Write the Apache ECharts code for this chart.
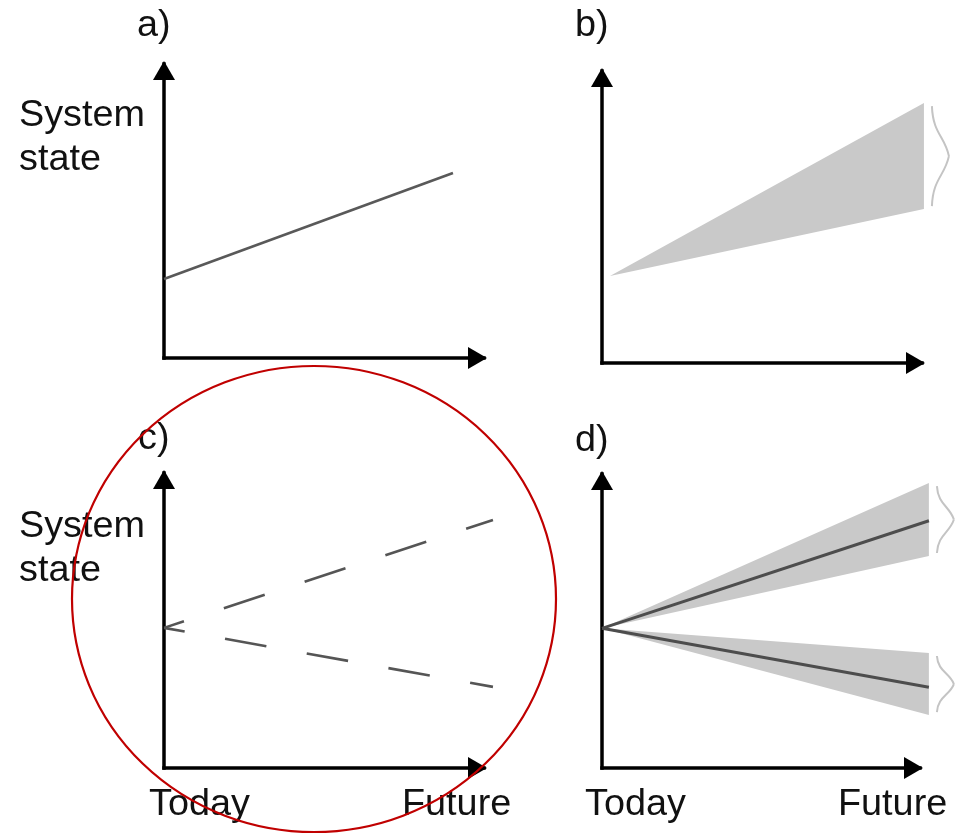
<!DOCTYPE html>
<html>
<head>
<meta charset="utf-8">
<script src="https://cdn.jsdelivr.net/npm/echarts@6/dist/echarts.min.js"></script>
<style>
html,body{margin:0;padding:0;background:#fff;}
#chart{width:961px;height:834px;}
</style>
</head>
<body>
<div id="chart"></div>
<script>
// ---- data (conceptual units, 0..100 on each axis) ----
const panelLabels = ['a)', 'b)', 'c)', 'd)'];
const yTitle = ['System', 'state'];
const xEnds = ['Today', 'Future'];

// a) single projection
const trendA = [[0, 26.9], [90.3, 62.9]];
// b) uncertainty band: [x, low, high]
const bandB = [[2.5, 29.8, 29.8], [100.6, 52.7, 89.0]];
// c) alternative scenarios (dashed)
const scenarioUp = [[0, 47.5], [102.8, 84.1]];
const scenarioDown = [[0, 47.5], [102.8, 27.5]];
// d) scenarios with uncertainty bands: [x, low, high]
const bandUp = [[0, 47.5, 47.5], [102.8, 72.1, 96.9]];
const bandDown = [[0, 47.5, 47.5], [102.8, 18.0, 39.1]];

const FONT = '"Liberation Sans", Arial, sans-serif';
const BAND_COLOR = '#c9c9c9';
const BRACE_COLOR = '#c4c4c4';

const grids = [
  {left: 164, top: 64, width: 320, height: 294},
  {left: 602, top: 71, width: 320, height: 292},
  {left: 164, top: 473, width: 320, height: 295},
  {left: 602, top: 474, width: 318, height: 294}
];

function axis(i) {
  return {
    gridIndex: i, type: 'value', min: 0, max: 100,
    axisLine: {
      show: true, onZero: false,
      symbol: ['none', 'triangle'], symbolSize: [22, 19], symbolOffset: [0, -6.5],
      lineStyle: {color: '#000', width: 3.5, cap: 'square'}
    },
    axisTick: {show: false}, axisLabel: {show: false}, splitLine: {show: false}
  };
}

function bandSeries(i, band) {
  return {
    type: 'custom', xAxisIndex: i, yAxisIndex: i, data: band, clip: false, silent: true,
    renderItem: function (params, api) {
      if (params.dataIndex !== 0) return null;
      const top = band.map(r => api.coord([r[0], r[2]]));
      const bot = band.map(r => api.coord([r[0], r[1]])).reverse();
      return {type: 'polygon', shape: {points: top.concat(bot)}, style: {fill: BAND_COLOR, stroke: null}};
    },
    z: 1
  };
}

function braceSeries(i, band) {
  const last = band[band.length - 1];
  return {
    type: 'custom', xAxisIndex: i, yAxisIndex: i, data: [last], clip: false, silent: true,
    renderItem: function (params, api) {
      const pt = api.coord([api.value(0), api.value(2)]);
      const pb = api.coord([api.value(0), api.value(1)]);
      const x0 = pt[0] + 8, w = 17;
      const top = pt[1] + 3, bot = pb[1] - 3;
      const mid = (top + bot) / 2, hh = (bot - top) / 2;
      const st = {stroke: BRACE_COLOR, lineWidth: 2, fill: null};
      return {type: 'group', children: [
        {type: 'bezierCurve', shape: {x1: x0, y1: top, cpx1: x0 + 1, cpy1: top + 0.55 * hh, cpx2: x0 + 0.75 * w, cpy2: mid - 0.4 * hh, x2: x0 + w, y2: mid}, style: st},
        {type: 'bezierCurve', shape: {x1: x0 + w, y1: mid, cpx1: x0 + 0.75 * w, cpy1: mid + 0.4 * hh, cpx2: x0 + 1, cpy2: bot - 0.55 * hh, x2: x0, y2: bot}, style: st}
      ]};
    },
    z: 2
  };
}

function lineSeries(i, data, color, width, dash, offset) {
  return {
    type: 'custom', xAxisIndex: i, yAxisIndex: i, data: data, clip: false, silent: true,
    renderItem: function (params, api) {
      if (params.dataIndex !== 0) return null;
      const pts = data.map(r => api.coord([r[0], r[1]]));
      return {type: 'polyline', shape: {points: pts},
        style: {stroke: color, lineWidth: width, fill: null, lineDash: dash || null, lineDashOffset: offset || 0, lineCap: 'butt'}};
    },
    z: 3
  };
}

function txt(text, x, baseline) {
  return {type: 'text', x: x, y: baseline - 8, scaleX: 1.05, z: 10,
    style: {text: text, font: '36px ' + FONT, fill: '#111', align: 'left', verticalAlign: 'middle'}};
}

const graphics = [
  txt(panelLabels[0], 137, 34),
  txt(panelLabels[1], 575, 34),
  txt(panelLabels[2], 138, 447),
  txt(panelLabels[3], 575, 449),
  txt(yTitle[0], 19, 124),
  txt(yTitle[1], 19, 168),
  txt(yTitle[0], 19, 535),
  txt(yTitle[1], 19, 579),
  txt(xEnds[0], 149, 813),
  txt(xEnds[1], 402, 813),
  txt(xEnds[0], 585, 813),
  txt(xEnds[1], 838, 813),
  {type: 'circle', x: 314, y: 599, scaleY: 0.963, z: 100,
   shape: {cx: 0, cy: 0, r: 242},
   style: {fill: null, stroke: '#c00000', lineWidth: 2.2}}
];

const chart = echarts.init(document.getElementById('chart'), null, {renderer: 'canvas'});
chart.setOption({
  backgroundColor: '#fff',
  animation: false,
  grid: grids,
  xAxis: [0, 1, 2, 3].map(axis),
  yAxis: [0, 1, 2, 3].map(axis),
  series: [
    lineSeries(0, trendA, '#595959', 2.6),
    bandSeries(1, bandB),
    braceSeries(1, bandB),
    lineSeries(2, scenarioUp, '#555', 2.6, [43, 42], 22),
    lineSeries(2, scenarioDown, '#555', 2.6, [42, 41], 21),
    bandSeries(3, bandUp),
    bandSeries(3, bandDown),
    braceSeries(3, bandUp),
    braceSeries(3, bandDown),
    lineSeries(3, scenarioUp, '#4d4d4d', 3),
    lineSeries(3, scenarioDown, '#4d4d4d', 3)
  ],
  graphic: graphics
});
</script>
</body>
</html>
